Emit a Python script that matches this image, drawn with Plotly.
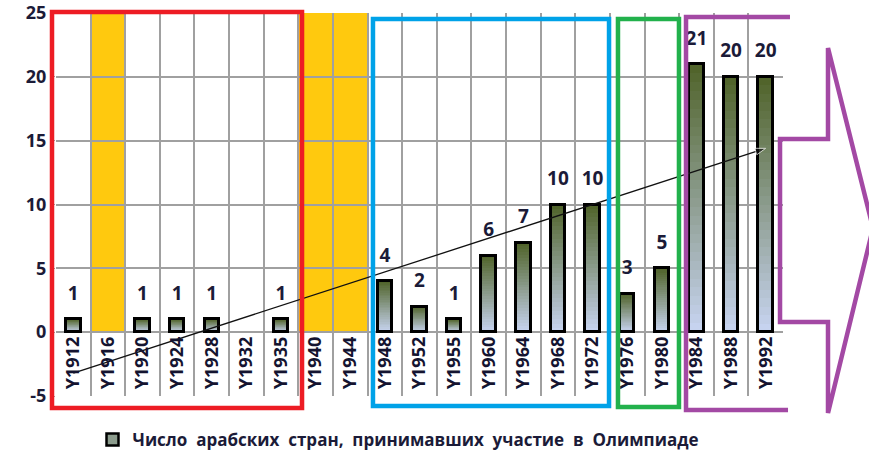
import plotly.graph_objects as go

# data
categories = ['Y1912', 'Y1916', 'Y1920', 'Y1924', 'Y1928', 'Y1932', 'Y1935', 'Y1940', 'Y1944',
              'Y1948', 'Y1952', 'Y1955', 'Y1960', 'Y1964', 'Y1968', 'Y1972', 'Y1976', 'Y1980',
              'Y1984', 'Y1988', 'Y1992']
countries = [1, None, 1, 1, 1, None, 1, None, None,
             4, 2, 1, 6, 7, 10, 10, 3, 5,
             21, 20, 20]
cancelled = ['Y1916', 'Y1940', 'Y1944']
cancelled_top = 25
trend_x = ['Y1912', 'Y1992']
trend_y = [-3.2, 14.4]
y_ticks = [-5, 0, 5, 10, 15, 20, 25]
y_ticktext = ['-5', '0', '5', '10', '15', '20', '25']
series_name = 'Число  арабских  стран,  принимавших  участие  в  Олимпиаде'

W, H = 869, 454
L, R, T, B = 56, 783, 13, 396   # plot area in pixels


def px(x, y):
    # pixel -> paper coordinates
    return (x - L) / (R - L), (B - y) / (B - T)


def path(points, close=False):
    s = ''
    for i, (x, y) in enumerate(points):
        a, b = px(x, y)
        s += ('M' if i == 0 else ' L') + f' {a:.4f},{b:.4f}'
    return s + (' Z' if close else '')


top_rgb = (79, 98, 40)
bot_rgb = (200, 213, 242)


def mix(t):
    c = [round(bot_rgb[k] + (top_rgb[k] - bot_rgb[k]) * t) for k in range(3)]
    return f'rgb({c[0]},{c[1]},{c[2]})'


fig = go.Figure()

# gradient fill: overlaid layers, each shorter and lighter than the last
N = 30
for i in range(N):
    frac = 1 - i / N
    fig.add_trace(go.Bar(
        x=categories, y=[v * frac if v else None for v in countries],
        width=0.42, marker=dict(color=mix(1 - (i + 0.5) / N), line=dict(width=0)),
        showlegend=False, hoverinfo='skip'))

# black outline
fig.add_trace(go.Bar(
    x=categories, y=countries, width=0.42,
    marker=dict(color='rgba(0,0,0,0)', line=dict(color='black', width=3)),
    showlegend=False))

# legend entry only
fig.add_trace(go.Bar(
    x=categories, y=[None] * len(categories), name=series_name,
    marker=dict(color=mix(0.5), line=dict(color='black', width=2.5))))

# value labels
lab_x = [c for c, v in zip(categories, countries) if v]
lab_y = [v for v in countries if v]
fig.add_trace(go.Scatter(
    x=lab_x, y=lab_y, mode='markers+text', text=[str(v) for v in lab_y],
    textposition='top center', marker=dict(size=22, opacity=0),
    textfont=dict(family='Open Sans', size=19, color='#1b1b38', weight='bold'),
    showlegend=False, cliponaxis=False, hoverinfo='skip'))

# trend arrow
fig.add_trace(go.Scatter(
    x=trend_x, y=trend_y, mode='lines+markers',
    line=dict(color='#111111', width=1.3),
    marker=dict(symbol=['circle', 'arrow'], size=[9, 11], angleref='previous', color='#111111'),
    showlegend=False, cliponaxis=False))

shapes = []
# yellow columns for the cancelled games, under the grid
for c in cancelled:
    shapes.append(dict(type='rect', xref='x', yref='y', x0=c, x1=c, x0shift=-0.5, x1shift=0.5,
                       y0=0, y1=cancelled_top, fillcolor='#FFC90E', line=dict(width=0),
                       layer='below'))

# coloured frames
frames = [
    ('#ED1C24', [(52, 12), (302, 12), (302, 408), (52, 408)], True),
    ('#00A2E8', [(373, 19), (609, 19), (609, 406), (373, 406)], True),
    ('#22B14C', [(618, 19), (679, 19), (679, 407), (618, 407)], True),
    ('#A349A4', [(790, 17), (686, 17), (686, 410), (788, 410)], False),
    ('#A349A4', [(780, 139), (828, 139), (828, 48), (873, 228), (828, 413), (828, 322), (780, 322)], True),
]
for color, pts, closed in frames:
    shapes.append(dict(type='path', xref='paper', yref='paper', path=path(pts, closed),
                       line=dict(color=color, width=4.5), layer='above'))

lx, ly = px(398, 440)
fig.update_layout(
    template='none',
    width=W, height=H,
    margin=dict(l=L, r=W - R, t=T, b=H - B, autoexpand=False),
    plot_bgcolor='white', paper_bgcolor='white',
    barmode='overlay', bargap=0,
    shapes=shapes,
    font=dict(family='Open Sans', color='#1b1b38'),
    showlegend=True,
    legend=dict(orientation='h', x=lx, y=ly, xanchor='center', yanchor='middle',
                font=dict(size=17, weight='bold', color='#1b1b38'),
                itemwidth=30, bgcolor='rgba(0,0,0,0)'),
    xaxis=dict(type='category', categoryorder='array', categoryarray=categories,
               anchor='free', position=5 / 30, tickangle=-90, tickson='boundaries',
               showgrid=True, gridcolor='#a0a0a0', gridwidth=1.5, ticks='',
               tickfont=dict(size=18, weight='bold', color='#141430'), automargin=False,
               range=[-0.5, len(categories) - 0.5], showline=False, zeroline=False),
    yaxis=dict(range=[-5, 25], tickmode='array', tickvals=y_ticks, ticktext=y_ticktext,
               showgrid=True, gridcolor='#a0a0a0', gridwidth=1.5, ticklabeloverflow='allow',
               zeroline=False, ticks='outside', ticklen=5, tickcolor='#a0a0a0', automargin=False,
               tickfont=dict(size=18, weight='bold', color='#1b1b38')),
)

# drop the default 8px body margin so the figure fills the window exactly
fig.write_html('out.html', config={'displayModeBar': False},
               post_script="document.body.style.margin='0';")
